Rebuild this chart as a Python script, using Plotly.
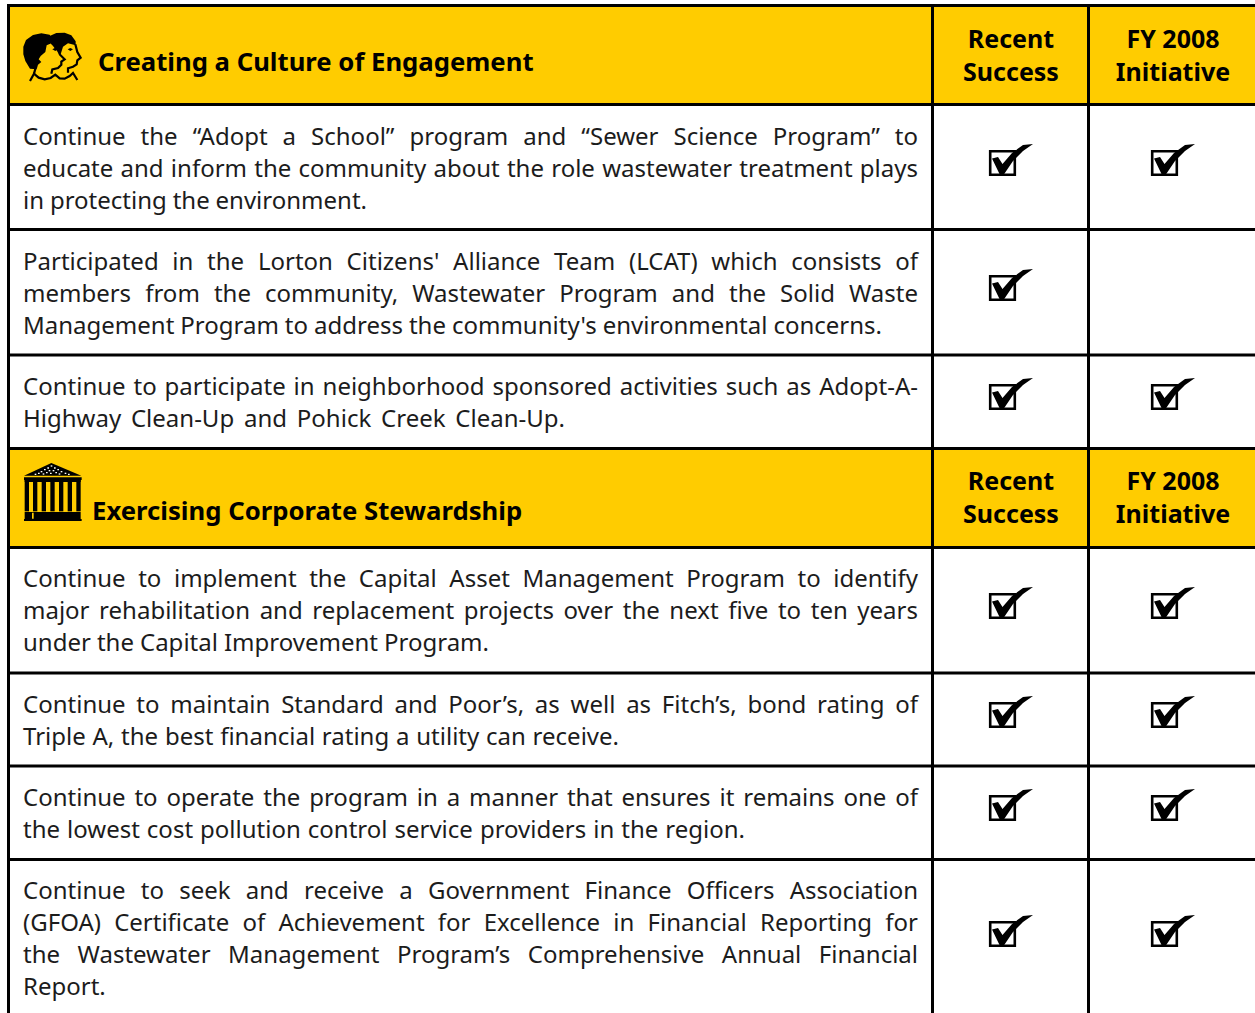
import plotly.graph_objects as go

# ---- content ----
section_titles = ["Creating a Culture of Engagement", "Exercising Corporate Stewardship"]
column_headers = ["Recent<br>Success", "FY 2008<br>Initiative"]

row_lines = [
    ["Continue the “Adopt a School” program and “Sewer Science Program” to",
     "educate and inform the community about the role wastewater treatment plays",
     "in protecting the environment."],
    ["Participated in the Lorton Citizens' Alliance Team (LCAT) which consists of",
     "members from the community, Wastewater Program and the Solid Waste",
     "Management Program to address the community's environmental concerns."],
    ["Continue to participate in neighborhood sponsored activities such as Adopt-A-",
     "Highway Clean-Up and Pohick Creek Clean-Up."],
    ["Continue to implement the Capital Asset Management Program to identify",
     "major rehabilitation and replacement projects over the next five to ten years",
     "under the Capital Improvement Program."],
    ["Continue to maintain Standard and Poor’s, as well as Fitch’s, bond rating of",
     "Triple A, the best financial rating a utility can receive."],
    ["Continue to operate the program in a manner that ensures it remains one of",
     "the lowest cost pollution control service providers in the region."],
    ["Continue to seek and receive a Government Finance Officers Association",
     "(GFOA) Certificate of Achievement for Excellence in Financial Reporting for",
     "the Wastewater Management Program’s Comprehensive Annual Financial",
     "Report."],
]
recent_success = [1, 1, 1, 1, 1, 1, 1]
fy2008_initiative = [1, 0, 1, 1, 1, 1, 1]

# ---- layout ----
W, H = 1255, 1013
FONT = "Noto Sans"
BODY_SIZE = 24
TITLE_SIZE = 25.7
HEADER_SIZE = 25
YELLOW = "#FFCC00"
INK = "#1c1c1c"
TEXT_LEFT, TEXT_RIGHT = 23, 918
last_line_right = [367, 882, 565, 489, 619, 745, 105]
LINE_GAP = 32
first_line_y = [139, 264, 389, 581, 707, 800, 893]
check_box_top = [150, 275, 384, 593, 702, 795, 921]
column_box_left = [989, 1151]
column_centers = [1011, 1173]
header_bands = [(7, 104), (449, 547)]
rule_y = [5.5, 104.5, 229.5, 355, 448.5, 547.5, 673, 766, 859.5]
rule_x = [8.5, 932.5, 1088.5]
title_pos = [(98, 65), (92, 514)]
header_center_y = [58, 500]


def path(points, dx=0, dy=0, s=1.0, close=True):
    body = " L ".join(f"{dx + x * s:.2f} {dy + y * s:.2f}" for x, y in points)
    return "M " + body + (" Z" if close else "")


def filled(d, color="black"):
    return dict(type="path", path=d, xref="x", yref="y", fillcolor=color, line_width=0, layer="above")


def stroked(d, width=1.6, color="black"):
    return dict(type="path", path=d, xref="x", yref="y", line=dict(color=color, width=width), layer="above")


shapes = []
for top, bottom in header_bands:
    shapes.append(dict(type="rect", x0=8, x1=W, y0=top, y1=bottom, fillcolor=YELLOW, line_width=0, layer="below"))
for y in rule_y:
    shapes.append(dict(type="line", x0=7, x1=W, y0=y, y1=y, line=dict(color="black", width=3), layer="above"))
for x in rule_x:
    shapes.append(dict(type="line", x0=x, x1=x, y0=4, y1=H, line=dict(color="black", width=3), layer="above"))

# check box icon, relative to the top-left corner of the box
CHECK = [(3, 8.5), (9, 7), (13.5, 14), (23, 3), (34, -5), (44, -6), (34, 1), (24, 11), (14.5, 25), (11, 25)]
for col, flags in enumerate([recent_success, fy2008_initiative]):
    for flag, top in zip(flags, check_box_top):
        if flag:
            left = column_box_left[col]
            shapes.append(dict(type="rect", x0=left + 1.2, x1=left + 25.8, y0=top + 1.2, y1=top + 24.8,
                               line=dict(color="black", width=2.6), layer="above"))
            shapes.append(filled(path(CHECK, left, top)))

# people icon (zoom coordinates, 1/3 px)
PX, PY, PS = 18, 26, 1 / 3
HAIR_BACK = [(95, 30), (115, 21), (140, 20), (160, 28), (173, 46), (173, 58), (150, 52), (135, 62), (128, 85), (112, 70), (100, 50)]
HAIR_FRONT = [(16, 62), (24, 42), (45, 27), (70, 22), (95, 26), (106, 45), (100, 52), (86, 58), (82, 78), (68, 90), (62, 100),
              (70, 108), (60, 116), (56, 130), (36, 128), (22, 105), (16, 85)]
FACE_FRONT = [(100, 50), (118, 68), (126, 86), (140, 100), (130, 107), (130, 116), (120, 126), (103, 130), (100, 143)]
FACE_BACK = [(172, 55), (178, 78), (188, 95), (178, 103), (176, 115), (165, 122), (150, 127), (150, 140)]
SHOULDERS = [(36, 165), (48, 143), (62, 155), (80, 160), (98, 156), (112, 146), (125, 157), (140, 158), (155, 150), (165, 141), (178, 162)]
SECOND_NECK = [(52, 128), (48, 143)]
EYE_A = [(103, 70), (110, 66), (119, 70), (112, 75)]
EYE_B = [(149, 70), (157, 66), (165, 70), (157, 75)]
shapes += [filled(path(HAIR_BACK, PX, PY, PS)), filled(path(HAIR_FRONT, PX, PY, PS)),
           filled(path(EYE_A, PX, PY, PS)), filled(path(EYE_B, PX, PY, PS))]
for line in (FACE_FRONT, FACE_BACK, SHOULDERS, SECOND_NECK):
    shapes.append(stroked(path(line, PX, PY, PS, close=False), 2.2))

# temple icon
TX, TY, TS = 18, 458, 1 / 3
def box(x0, y0, x1, y1):
    return [(x0, y0), (x1, y0), (x1, y1), (x0, y1)]
shapes.append(filled(path([(18, 53), (100, 15), (190, 53)], TX, TY, TS)))
SPECKS = [(98, 22), (88, 28), (108, 28), (78, 33), (118, 33), (68, 39), (128, 39), (60, 44), (140, 44), (50, 47),
          (150, 47), (92, 36), (104, 36), (84, 42), (96, 44), (112, 42), (122, 46), (74, 46)]
for sx, sy in SPECKS:
    shapes.append(filled(path(box(sx, sy, sx + 5, sy + 4), TX, TY, TS), "white"))
shapes.append(filled(path(box(18, 58, 191, 66), TX, TY, TS)))
for left_edge in (20, 45, 71, 97, 123, 149, 175):
    shapes.append(filled(path(box(left_edge, 66, left_edge + 13, 160), TX, TY, TS)))
shapes.append(filled(path(box(20, 66, 188, 72), TX, TY, TS)))
shapes.append(filled(path(box(20, 162, 188, 183), TX, TY, TS)))
shapes.append(filled(path(box(18, 183, 191, 189), TX, TY, TS)))
shapes.append(filled(path(box(42, 164, 47, 182), TX, TY, TS), YELLOW))

# ---- text traces ----
body_x, body_y, body_t, body_width = [], [], [], []
for lines, y0, end in zip(row_lines, first_line_y, last_line_right):
    for i, line in enumerate(lines):
        last = i == len(lines) - 1
        body_x.append(TEXT_LEFT)
        body_y.append(y0 + i * LINE_GAP)
        body_t.append(line)
        body_width.append((end if last else TEXT_RIGHT) - TEXT_LEFT)

head_x, head_y, head_t = [], [], []
for y in header_center_y:
    for cx, label in zip(column_centers, column_headers):
        head_x.append(cx)
        head_y.append(y)
        head_t.append(label)

fig = go.Figure()
common = dict(mode="text", hoverinfo="skip", showlegend=False, cliponaxis=False)
fig.add_trace(go.Scatter(x=body_x, y=body_y, text=body_t, textposition="middle right",
                         textfont=dict(family=FONT, size=BODY_SIZE, color=INK), **common))
fig.add_trace(go.Scatter(x=[p[0] for p in title_pos], y=[p[1] for p in title_pos], text=section_titles,
                         textposition="middle right",
                         textfont=dict(family=FONT, size=TITLE_SIZE, color="black", weight="bold"), **common))
fig.add_trace(go.Scatter(x=head_x, y=head_y, text=head_t, textposition="middle center",
                         textfont=dict(family=FONT, size=HEADER_SIZE, color="black", weight="bold"), **common))

fig.update_layout(
    width=W, height=H, margin=dict(l=0, r=0, t=0, b=0), paper_bgcolor="white", plot_bgcolor="white",
    xaxis=dict(range=[0, W], visible=False, fixedrange=True),
    yaxis=dict(range=[H, 0], visible=False, fixedrange=True),
    shapes=shapes,
)

post = """
document.body.style.margin = '0';
document.body.style.overflow = 'hidden';
var gd = document.querySelector('.plotly-graph-div');
var widths = %s;
var tr = gd.querySelectorAll('.scatterlayer .trace')[0];
tr.querySelectorAll('.textpoint text').forEach(function (t, i) {
    var n = (t.textContent.match(/ /g) || []).length;
    if (n) { t.style.wordSpacing = ((widths[i] - t.getComputedTextLength()) / n) + 'px'; }
});
""" % body_width
fig.write_html("out.html", post_script=post, config={"displayModeBar": False})
